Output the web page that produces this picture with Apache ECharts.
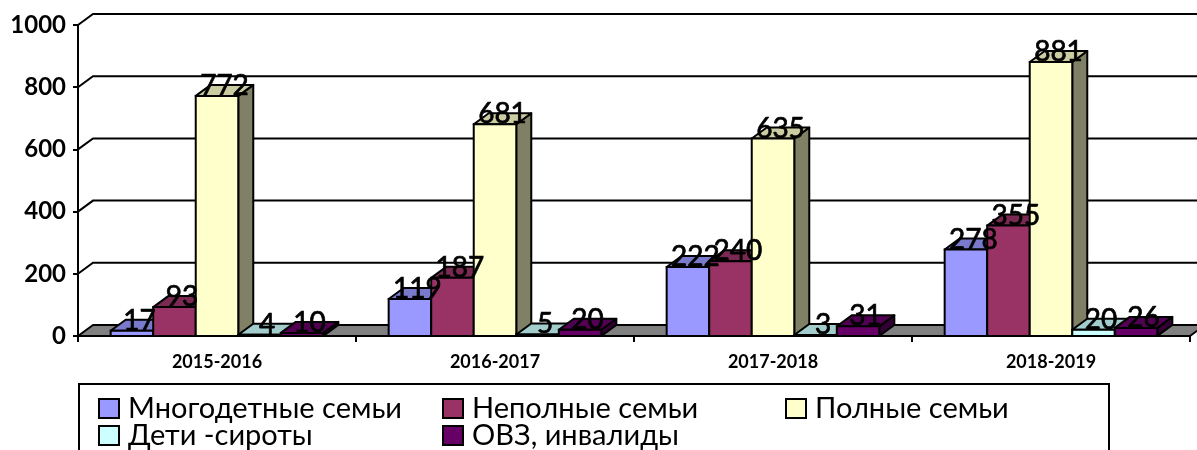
<!DOCTYPE html>
<html>
<head>
<meta charset="utf-8">
<script src="https://cdn.jsdelivr.net/npm/echarts@6/dist/echarts.min.js"></script>
<style>
html,body{margin:0;padding:0;background:#fff;}
#chart{width:1197px;height:450px;}
</style>
</head>
<body>
<div id="chart"></div>
<script>
const categories = ['2015-2016', '2016-2017', '2017-2018', '2018-2019'];
const seriesNames = ['Многодетные семьи', 'Неполные семьи', 'Полные семьи', 'Дети -сироты', 'ОВЗ, инвалиды'];
const mnogodetnye = [17, 119, 222, 278];
const nepolnye = [93, 187, 240, 355];
const polnye = [772, 681, 635, 881];
const siroty = [4, 5, 3, 20];
const ovz = [10, 20, 31, 26];
const yTicks = [0, 200, 400, 600, 800, 1000];
const colors = ['#9999FF', '#993366', '#FFFFCC', '#CCFFFF', '#660066'];

const seriesValues = [mnogodetnye, nepolnye, polnye, siroty, ovz];
const DX = 15, DY = -11;
const FONT = "Lato, 'Open Sans', sans-serif";

function shade(hex, f) {
  const n = parseInt(hex.slice(1), 16);
  const r = Math.round(((n >> 16) & 255) * f);
  const g = Math.round(((n >> 8) & 255) * f);
  const b = Math.round((n & 255) * f);
  return 'rgb(' + r + ',' + g + ',' + b + ')';
}

function barRenderer(k) {
  return function (params, api) {
    const ci = api.value(0);
    const v = api.value(1);
    const base = api.coord([ci, 0]);
    const top = api.coord([ci, v]);
    const cw = api.size([1, 0])[0];
    const bw = cw * 0.153;
    const x = base[0] - 2.5 * bw + k * bw;
    const y0 = base[1];
    const y1 = top[1];
    const c = colors[k];
    const lw = 2;
    return {
      type: 'group',
      children: [
        {
          type: 'polygon', z2: 1,
          shape: { points: [[x + bw, y1], [x + bw + DX, y1 + DY], [x + bw + DX, y0 + DY], [x + bw, y0]] },
          style: { fill: shade(c, 0.5), stroke: '#000', lineWidth: lw, lineJoin: 'round' }
        },
        {
          type: 'polygon', z2: 1,
          shape: { points: [[x, y1], [x + DX, y1 + DY], [x + bw + DX, y1 + DY], [x + bw, y1]] },
          style: { fill: shade(c, 0.8), stroke: '#000', lineWidth: lw, lineJoin: 'round' }
        },
        {
          type: 'rect', z2: 1,
          shape: { x: x, y: y1, width: bw, height: y0 - y1 },
          style: { fill: c, stroke: '#000', lineWidth: lw }
        },
        {
          type: 'text', z2: 100,
          style: {
            text: String(v), x: x + bw / 2 + DX / 2, y: y1 - 10,
            align: 'center', verticalAlign: 'middle',
            font: '28px ' + FONT, fill: '#000', stroke: '#000', lineWidth: 0.7
          }
        }
      ]
    };
  };
}

function wallRenderer(params, api) {
  const v = api.value(1);
  const cs = params.coordSys;
  const x0 = cs.x, x1 = cs.x + cs.width;
  const y = api.coord([0, v])[1];
  const children = [];
  if (v === 0) {
    children.push({
      type: 'polygon', z2: 0,
      shape: { points: [[x0, y], [x1, y], [x1 + DX, y + DY], [x0 + DX, y + DY]] },
      style: { fill: '#808080', stroke: '#000', lineWidth: 2, lineJoin: 'round' }
    });
  } else {
    children.push({
      type: 'polyline', z2: 0,
      shape: { points: [[x0, y], [x0 + DX, y + DY], [x1 + DX + 20, y + DY]] },
      style: { fill: 'none', stroke: '#000', lineWidth: 2 }
    });
  }
  return { type: 'group', children: children };
}

const series = [{
  type: 'custom',
  name: 'wall',
  renderItem: wallRenderer,
  data: yTicks.map(v => [0, v]),
  encode: { x: 0, y: 1 },
  silent: true,
  clip: false
}];
seriesValues.forEach((vals, k) => {
  series.push({
    type: 'custom',
    name: seriesNames[k],
    renderItem: barRenderer(k),
    data: vals.map((v, i) => [i, v]),
    encode: { x: 0, y: 1 },
    itemStyle: { color: colors[k] },
    clip: false
  });
});

const legendCommon = {
  orient: 'horizontal',
  padding: 0,
  itemWidth: 20,
  itemHeight: 19,
  itemGap: 0,
  icon: 'rect',
  selectedMode: false,
  itemStyle: { borderColor: '#000', borderWidth: 2 },
  textStyle: { fontFamily: FONT, fontSize: 29, color: '#000', lineHeight: 27, padding: [0, 0, 0, 4] }
};
const legendSlots = [[98, 394], [442, 394], [785, 394], [98, 421], [442, 421]];

const option = {
  animation: false,
  backgroundColor: '#fff',
  grid: { left: 78, right: 7, top: 25, bottom: 114, containLabel: false },
  xAxis: {
    type: 'category',
    data: categories,
    axisLine: { show: true, lineStyle: { color: '#000', width: 2 } },
    axisTick: { show: true, length: 6, lineStyle: { color: '#000', width: 2 } },
    axisLabel: { fontFamily: FONT, fontSize: 18, fontWeight: 'bold', color: '#000', margin: 17 },
    splitLine: { show: false }
  },
  yAxis: {
    type: 'value',
    min: 0, max: 1000, interval: 200,
    axisLine: { show: true, lineStyle: { color: '#000', width: 2 } },
    axisTick: { show: true, length: 5, lineStyle: { color: '#000', width: 2 } },
    axisLabel: { fontFamily: FONT, fontSize: 24, fontWeight: 'bold', color: '#000', margin: 12, formatter: v => String(v) },
    splitLine: { show: false }
  },
  legend: seriesNames.map((name, k) => Object.assign({}, legendCommon, {
    left: legendSlots[k][0], top: legendSlots[k][1], data: [name]
  })),
  graphic: [{
    type: 'rect',
    shape: { x: 79, y: 384, width: 1030, height: 80 },
    style: { fill: 'none', stroke: '#000', lineWidth: 2 },
    silent: true
  }],
  series: series
};

const chart = echarts.init(document.getElementById('chart'), null, { renderer: 'canvas' });
chart.setOption(option);
</script>
</body>
</html>
